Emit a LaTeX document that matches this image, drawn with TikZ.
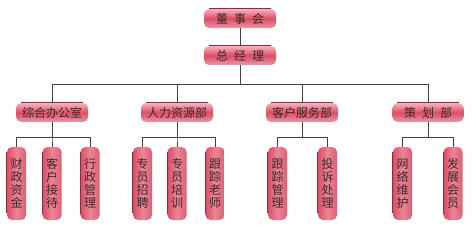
\documentclass[tikz,border=0pt]{standalone}
\usepackage{fontspec}
\setmainfont{Noto Sans CJK SC}
\definecolor{pinklight}{HTML}{F6B3BF}
\definecolor{pinkdark}{HTML}{DB4E66}
\definecolor{inkgray}{HTML}{3A2A2C}
\definecolor{wiregray}{HTML}{404040}

\begin{document}
\begin{tikzpicture}[x=1pt, y=-1pt,
  hbox/.style={rounded corners=5pt, minimum width=72pt, minimum height=19pt, inner sep=0pt,
    top color=pinklight, bottom color=pinklight!70!pinkdark, middle color=pinkdark,
    text=inkgray, font=\fontsize{12}{14}\selectfont,
    append after command={([xshift=5pt,yshift=0.6pt]\tikzlastnode.north west) edge[rim] ([xshift=-5pt,yshift=0.6pt]\tikzlastnode.north east)}},
  vbox/.style={rounded corners=5pt, minimum width=19pt, minimum height=73pt, inner sep=0pt,
    left color=pinkdark, right color=pinkdark!85!pinklight, middle color=pinklight!55!pinkdark,
    text=inkgray, align=center, font=\fontsize{12}{13}\selectfont,
    append after command={([xshift=-0.6pt,yshift=-5pt]\tikzlastnode.north west) edge[rim] ([xshift=-0.6pt,yshift=7pt]\tikzlastnode.south west)}},
  rim/.style={draw=pinkdark!60!black, line width=0.4pt},
  wire/.style={draw=wiregray, line width=0.7pt}
]
\useasboundingbox (0,0) rectangle (473,231);

% top of the tree
\node[hbox] (board) at (240,18.5) {董\hspace{0.5em}事\hspace{0.5em}会};
\node[hbox] (gm) at (240,55.5) {总\hspace{0.5em}经\hspace{0.5em}理};

% departments
\node[hbox] (office) at (52,112.5) {综合办公室};
\node[hbox] (hr) at (177,112.5) {人力资源部};
\node[hbox] (service) at (302,112.5) {客户服务部};
\node[hbox, minimum width=71pt] (plan) at (428,112.5) {策\hspace{0.5em}划\hspace{0.5em}部};

% posts
\node[vbox] (finance) at (16.5,183.5) {财\\政\\资\\金};
\node[vbox] (reception) at (52,183.5) {客\\户\\接\\待};
\node[vbox] (admin) at (90,183.5) {行\\政\\管\\理};
\node[vbox] (recruit) at (142.5,183.5) {专\\员\\招\\聘};
\node[vbox] (training) at (177,183.5) {专\\员\\培\\训};
\node[vbox] (tutor) at (215,183.5) {跟\\踪\\老\\师};
\node[vbox] (track) at (277.5,183.5) {跟\\踪\\管\\理};
\node[vbox] (complaint) at (327.5,183.5) {投\\诉\\处\\理};
\node[vbox] (network) at (402.5,183.5) {网\\络\\维\\护};
\node[vbox] (member) at (453,183.5) {发\\展\\会\\员};

% connectors
\draw[wire] (board) -- (gm);
\draw[wire] (gm.south) -- ++(0,19) -| (office.north);
\draw[wire] (gm.south) -- ++(0,19) -| (hr.north);
\draw[wire] (gm.south) -- ++(0,19) -| (service.north);
\draw[wire] (gm.south) -- ++(0,19) -| (plan.north);

\draw[wire] (office.south) -- ++(0,15) -| (finance.north);
\draw[wire] (office.south) -- ++(0,15) -| (reception.north);
\draw[wire] (office.south) -- ++(0,15) -| (admin.north);
\draw[wire] (hr.south) -- ++(0,15) -| (recruit.north);
\draw[wire] (hr.south) -- ++(0,15) -| (training.north);
\draw[wire] (hr.south) -- ++(0,15) -| (tutor.north);
\draw[wire] (service.south) -- ++(0,15) -| (track.north);
\draw[wire] (service.south) -- ++(0,15) -| (complaint.north);
\draw[wire] (plan.south) -- ++(0,15) -| (network.north);
\draw[wire] (plan.south) -- ++(0,15) -| (member.north);
\end{tikzpicture}
\end{document}
